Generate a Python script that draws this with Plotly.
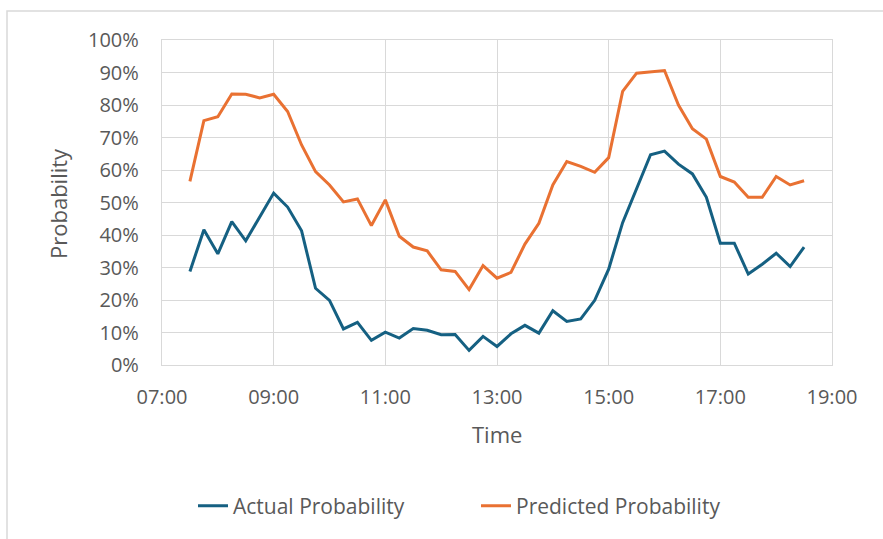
import plotly.graph_objects as go

# Quarter-hour time slots across the day
times = [
    "07:30", "07:45", "08:00", "08:15", "08:30", "08:45",
    "09:00", "09:15", "09:30", "09:45", "10:00", "10:15",
    "10:30", "10:45", "11:00", "11:15", "11:30", "11:45",
    "12:00", "12:15", "12:30", "12:45", "13:00", "13:15",
    "13:30", "13:45", "14:00", "14:15", "14:30", "14:45",
    "15:00", "15:15", "15:30", "15:45", "16:00", "16:15",
    "16:30", "16:45", "17:00", "17:15", "17:30", "17:45",
    "18:00", "18:15", "18:30",
]

actual = [
    0.288, 0.416, 0.342, 0.441, 0.382, 0.456,
    0.529, 0.486, 0.413, 0.236, 0.199, 0.111,
    0.131, 0.076, 0.101, 0.083, 0.112, 0.107,
    0.093, 0.094, 0.045, 0.088, 0.057, 0.096,
    0.122, 0.098, 0.167, 0.134, 0.142, 0.199,
    0.295, 0.438, 0.544, 0.647, 0.658, 0.618,
    0.588, 0.516, 0.375, 0.375, 0.280, 0.310,
    0.344, 0.303, 0.363,
]

predicted = [
    0.565, 0.752, 0.764, 0.834, 0.833, 0.822,
    0.833, 0.780, 0.677, 0.595, 0.554, 0.502,
    0.511, 0.429, 0.508, 0.396, 0.363, 0.351,
    0.293, 0.288, 0.232, 0.306, 0.267, 0.285,
    0.372, 0.436, 0.554, 0.626, 0.611, 0.593,
    0.638, 0.842, 0.898, 0.902, 0.906, 0.800,
    0.727, 0.695, 0.580, 0.563, 0.516, 0.516,
    0.580, 0.554, 0.567,
]

y_ticks = [0, 0.1, 0.2, 0.3, 0.4, 0.5, 0.6, 0.7, 0.8, 0.9, 1.0]
x_ticks = ["07:00", "09:00", "11:00", "13:00", "15:00", "17:00", "19:00"]

day = "2024-01-01 "
x_vals = [day + t for t in times]

FONT = "Open Sans"
TEXT = "#595959"
GRID = "#D9D9D9"

fig = go.Figure()
fig.add_trace(go.Scatter(
    x=x_vals, y=actual, mode="lines", name="Actual Probability",
    line=dict(color="#156082", width=3),
))
fig.add_trace(go.Scatter(
    x=x_vals, y=predicted, mode="lines", name="Predicted Probability",
    line=dict(color="#E97132", width=3),
))

fig.update_layout(
    width=883, height=539,
    margin=dict(l=162, r=51, t=40, b=174),
    paper_bgcolor="white", plot_bgcolor="white",
    font=dict(family=FONT, size=20, color=TEXT),
    showlegend=True,
    legend=dict(
        orientation="h", x=(193 - 162) / 670, xanchor="left",
        y=(365 - 506) / 325, yanchor="middle",
        font=dict(family=FONT, size=21, color=TEXT),
        entrywidth=238, entrywidthmode="pixels",
        bgcolor="rgba(0,0,0,0)",
    ),
)

fig.update_xaxes(
    type="date",
    range=[day + x_ticks[0], day + x_ticks[-1]],
    tickvals=[day + t for t in x_ticks], ticktext=x_ticks,
    showgrid=True, gridcolor=GRID, gridwidth=1.3,
    showline=True, linecolor=GRID, linewidth=1.3, mirror=True,
    ticks="", ticklabelstandoff=14,
    tickfont=dict(family=FONT, size=20, color=TEXT),
    zeroline=False,
)
fig.update_yaxes(
    range=[0, 1.0],
    tickvals=y_ticks, tickformat=".0%",
    showgrid=True, gridcolor=GRID, gridwidth=1.3,
    showline=True, linecolor=GRID, linewidth=1.3, mirror=True,
    ticks="", ticklabelstandoff=18,
    tickfont=dict(family=FONT, size=20, color=TEXT),
    zeroline=False,
)

# Axis titles
fig.add_annotation(
    text="Time", xref="paper", yref="paper",
    x=(497 - 162) / 670, y=(365 - 434) / 325,
    xanchor="center", yanchor="middle", showarrow=False,
    font=dict(family=FONT, size=22, color=TEXT),
)
fig.add_annotation(
    text="Probability", xref="paper", yref="paper",
    x=(58 - 162) / 670, y=(365 - 204) / 325, textangle=-90,
    xanchor="center", yanchor="middle", showarrow=False,
    font=dict(family=FONT, size=22, color=TEXT),
)

# Chart frame
fig.add_shape(
    type="rect", xref="paper", yref="paper",
    x0=(7 - 162) / 670, x1=(900 - 162) / 670,
    y0=(365 - 600) / 325, y1=(365 - 11) / 325,
    line=dict(color="#D9D9D9", width=1.5), fillcolor="rgba(0,0,0,0)",
    layer="below",
)

fig.write_html("out.html")
